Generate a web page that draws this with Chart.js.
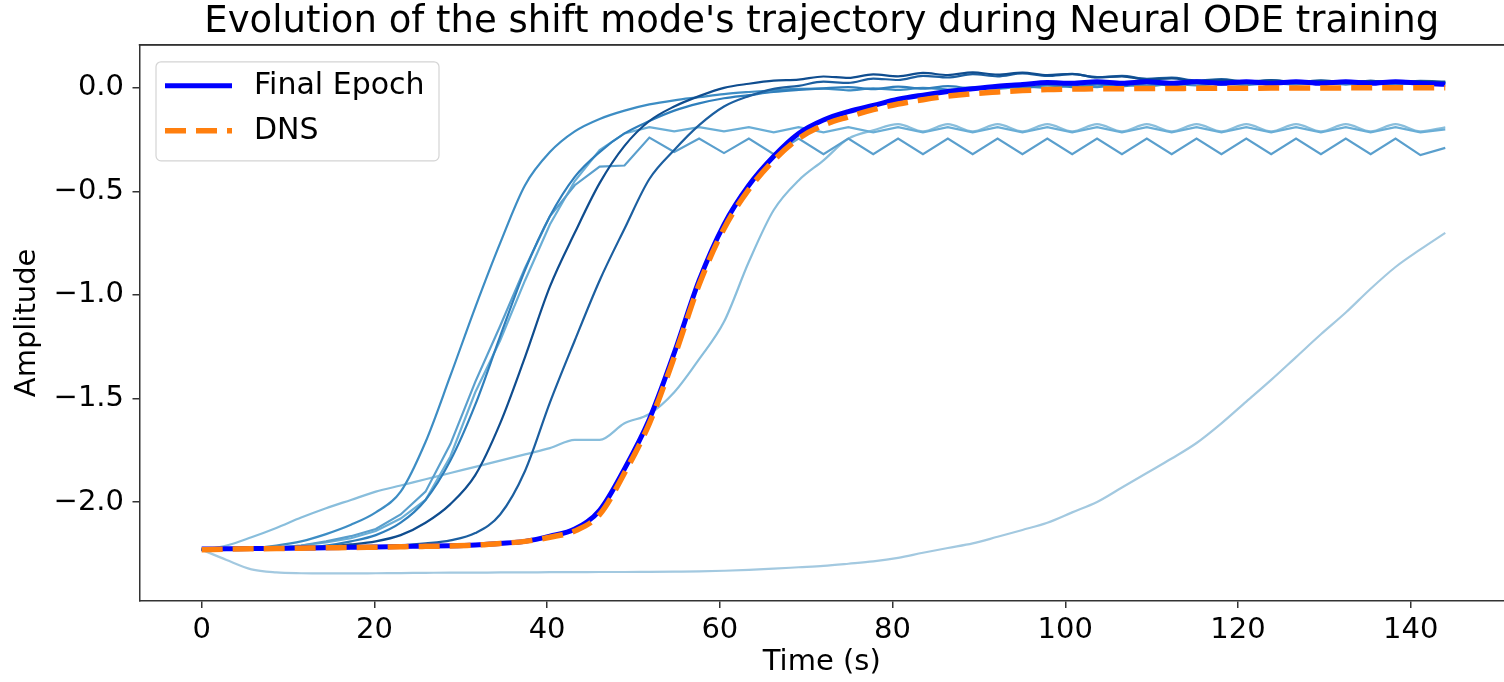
<!DOCTYPE html>
<html>
<head>
<meta charset="utf-8">
<title>Shift mode trajectory during Neural ODE training</title>
<script src="https://cdn.jsdelivr.net/npm/chart.js@4.4.0/dist/chart.umd.min.js"></script>
<style>
    html, body { margin: 0; padding: 0; background: #fff; }
    #wrap { width: 1504px; height: 682px; }
</style>
</head>
<body>
<div id="wrap"><canvas id="trajChart" width="1504" height="682"></canvas></div>
<script>
// 时间轴 (s)
const timeSteps = [0, 2.88, 5.76, 8.64, 11.52, 14.4, 17.28, 20.16, 23.04, 25.92,
    28.8, 31.68, 34.56, 37.44, 40.32, 43.2, 46.08, 48.96, 51.84, 54.72,
    57.6, 60.48, 63.36, 66.24, 69.12, 72, 74.88, 77.76, 80.64, 83.52,
    86.4, 89.28, 92.16, 95.04, 97.92, 100.8, 103.68, 106.56, 109.44, 112.32,
    115.2, 118.08, 120.96, 123.84, 126.72, 129.6, 132.48, 135.36, 138.24, 141.12,
    144];

// 训练过程中的各个 epoch (由浅到深)
const epochA = [-2.23, -2.28, -2.325, -2.34, -2.344, -2.345, -2.345, -2.344, -2.343, -2.342,
    -2.341, -2.341, -2.340, -2.340, -2.339, -2.339, -2.338, -2.338, -2.337, -2.336,
    -2.335, -2.332, -2.328, -2.322, -2.315, -2.308, -2.298, -2.287, -2.27, -2.245,
    -2.222, -2.20, -2.168, -2.135, -2.10, -2.05, -2.00, -1.93, -1.86, -1.79,
    -1.715, -1.62, -1.515, -1.41, -1.30, -1.19, -1.085, -0.97, -0.865, -0.78, -0.70];
const epochB = [-2.23, -2.21, -2.17, -2.125, -2.075, -2.03, -1.99, -1.95, -1.92, -1.89,
    -1.86, -1.83, -1.80, -1.77, -1.74, -1.70, -1.70, -1.62, -1.575, -1.47,
    -1.31, -1.13, -0.84, -0.59, -0.447, -0.35, -0.245, -0.205, -0.175, -0.21,
    -0.175, -0.21, -0.175, -0.21, -0.175, -0.21, -0.175, -0.21, -0.175, -0.21,
    -0.175, -0.21, -0.175, -0.21, -0.175, -0.21, -0.175, -0.21, -0.175, -0.21, -0.19];
const epochC = [-2.23, -2.228, -2.225, -2.22, -2.21, -2.195, -2.175, -2.14, -2.08, -1.99,
    -1.78, -1.47, -1.22, -0.93, -0.66, -0.45, -0.30, -0.22, -0.19, -0.21,
    -0.19, -0.21, -0.19, -0.215, -0.19, -0.215, -0.19, -0.215, -0.19, -0.215,
    -0.19, -0.215, -0.19, -0.215, -0.19, -0.215, -0.19, -0.215, -0.19, -0.215,
    -0.19, -0.215, -0.19, -0.215, -0.19, -0.215, -0.19, -0.215, -0.19, -0.215, -0.20];
const epochD = [-2.23, -2.228, -2.225, -2.22, -2.21, -2.19, -2.165, -2.13, -2.06, -1.95,
    -1.72, -1.42, -1.15, -0.87, -0.62, -0.47, -0.38, -0.375, -0.24, -0.31,
    -0.245, -0.315, -0.245, -0.32, -0.245, -0.32, -0.245, -0.32, -0.245, -0.32,
    -0.245, -0.32, -0.245, -0.32, -0.245, -0.32, -0.245, -0.32, -0.245, -0.32,
    -0.245, -0.32, -0.245, -0.32, -0.245, -0.32, -0.245, -0.32, -0.245, -0.325, -0.29];
const epochE = [-2.23, -2.227, -2.222, -2.21, -2.19, -2.155, -2.11, -2.05, -1.95, -1.71,
    -1.39, -1.06, -0.75, -0.47, -0.31, -0.21, -0.15, -0.11, -0.08, -0.06,
    -0.045, -0.03, -0.02, -0.012, -0.005, -0.004, -0.012, -0.002, -0.01, 0.0,
    -0.008, 0.002, -0.004, 0.006, 0.0, 0.01, 0.004, 0.014, 0.008, 0.018,
    0.012, 0.02, 0.014, 0.022, 0.016, 0.024, 0.016, 0.024, 0.016, 0.024, 0.02];
const epochF = [-2.23, -2.228, -2.225, -2.222, -2.218, -2.21, -2.19, -2.16, -2.10, -1.99,
    -1.80, -1.53, -1.20, -0.88, -0.62, -0.43, -0.31, -0.22, -0.16, -0.11,
    -0.075, -0.05, -0.035, -0.02, -0.01, -0.002, 0.004, -0.006, 0.006, -0.004,
    0.008, -0.002, 0.01, 0.0, 0.012, 0.004, 0.016, 0.008, 0.02, 0.012,
    0.024, 0.016, 0.026, 0.018, 0.028, 0.02, 0.028, 0.02, 0.028, 0.02, 0.025];
const epochG = [-2.23, -2.229, -2.228, -2.227, -2.225, -2.223, -2.22, -2.216, -2.21, -2.20,
    -2.185, -2.15, -2.06, -1.85, -1.52, -1.22, -0.93, -0.68, -0.44, -0.30,
    -0.18, -0.09, -0.04, -0.005, 0.01, 0.03, 0.024, 0.045, 0.038, 0.058,
    0.05, 0.066, 0.056, 0.07, 0.058, 0.066, 0.052, 0.058, 0.044, 0.05,
    0.036, 0.042, 0.03, 0.038, 0.028, 0.036, 0.026, 0.034, 0.026, 0.034, 0.03];
const epochH = [-2.23, -2.228, -2.226, -2.224, -2.22, -2.215, -2.205, -2.19, -2.16, -2.10,
    -2.01, -1.87, -1.62, -1.30, -0.96, -0.70, -0.46, -0.28, -0.16, -0.09,
    -0.04, 0.0, 0.02, 0.035, 0.04, 0.055, 0.048, 0.065, 0.056, 0.072,
    0.062, 0.075, 0.064, 0.074, 0.062, 0.068, 0.05, 0.056, 0.04, 0.046,
    0.032, 0.038, 0.028, 0.036, 0.026, 0.034, 0.024, 0.034, 0.024, 0.032, 0.026];

// 最终 epoch 与 DNS 参考
const finalEpoch = [-2.227, -2.226, -2.225, -2.224, -2.222, -2.221, -2.219, -2.217, -2.215, -2.213,
    -2.211, -2.207, -2.20, -2.19, -2.165, -2.13, -2.04, -1.84, -1.60, -1.28,
    -0.93, -0.66, -0.47, -0.33, -0.22, -0.155, -0.115, -0.085, -0.055, -0.035,
    -0.018, -0.004, 0.008, 0.016, 0.026, 0.022, 0.03, 0.022, 0.03, 0.022,
    0.03, 0.022, 0.03, 0.022, 0.03, 0.022, 0.03, 0.022, 0.03, 0.022, 0.018];
const dnsValues = [-2.23, -2.228, -2.226, -2.225, -2.223, -2.221, -2.22, -2.218, -2.216, -2.214,
    -2.212, -2.208, -2.20, -2.19, -2.17, -2.14, -2.06, -1.86, -1.62, -1.30,
    -0.95, -0.68, -0.49, -0.35, -0.245, -0.18, -0.14, -0.105, -0.078, -0.057,
    -0.04, -0.028, -0.02, -0.013, -0.008, -0.006, -0.004, -0.004, -0.003, -0.003,
    -0.002, -0.002, -0.002, -0.001, -0.001, -0.001, 0.0, 0.0, 0.0, 0.0, 0.0];

const legendOrder = ['Final Epoch', 'DNS'];
const xTickStep = 20;
const yTickStep = 0.5;

const FONT = 'DejaVu Sans';

function toPoints(values) {
    return values.map((v, i) => ({ x: timeSteps[i], y: v }));
}

function epochLine(values, color, order, sharp) {
    return {
        label: '',
        data: toPoints(values),
        borderColor: color,
        borderWidth: 2.2,
        pointRadius: 0,
        fill: false,
        order: order,
        tension: 0,
        cubicInterpolationMode: sharp ? 'default' : 'monotone'
    };
}

// 边框 + 图例框 (画在坐标区内部左上角)
const frameAndLegend = {
    id: 'frameAndLegend',
    afterDatasetsDraw(chart) {
        const ctx = chart.ctx;
        const area = chart.chartArea;

        // 顶部边框
        ctx.save();
        ctx.fillStyle = '#333';
        ctx.fillRect(area.left - 0.75, area.top - 0.75, chart.width - area.left + 1, 1.6);
        ctx.restore();

        const items = legendOrder.map(name => chart.data.datasets.find(d => d.label === name));
        const x0 = area.left + 16.5, y0 = area.top + 17, w = 283, h = 99, r = 5;

        ctx.save();
        ctx.beginPath();
        ctx.moveTo(x0 + r, y0);
        ctx.lineTo(x0 + w - r, y0);
        ctx.arcTo(x0 + w, y0, x0 + w, y0 + r, r);
        ctx.lineTo(x0 + w, y0 + h - r);
        ctx.arcTo(x0 + w, y0 + h, x0 + w - r, y0 + h, r);
        ctx.lineTo(x0 + r, y0 + h);
        ctx.arcTo(x0, y0 + h, x0, y0 + h - r, r);
        ctx.lineTo(x0, y0 + r);
        ctx.arcTo(x0, y0, x0 + r, y0, r);
        ctx.closePath();
        ctx.fillStyle = 'rgba(255,255,255,0.85)';
        ctx.fill();
        ctx.strokeStyle = '#d4d4d4';
        ctx.lineWidth = 1.2;
        ctx.stroke();

        items.forEach((d, i) => {
            const cy = y0 + 24 + i * 45;
            ctx.beginPath();
            ctx.setLineDash(d.borderDash || []);
            ctx.lineCap = 'butt';
            ctx.strokeStyle = d.borderColor;
            ctx.lineWidth = d.borderWidth;
            ctx.moveTo(x0 + 9, cy);
            ctx.lineTo(x0 + 76, cy);
            ctx.stroke();
            ctx.setLineDash([]);
            ctx.fillStyle = '#000';
            ctx.font = '30px "' + FONT + '"';
            ctx.textBaseline = 'middle';
            ctx.textAlign = 'left';
            ctx.fillText(d.label, x0 + 98, cy);
        });
        ctx.restore();
    }
};

function initChart() {
    const ctx = document.getElementById('trajChart');
    new Chart(ctx, {
        type: 'line',
        data: {
            datasets: [
                {
                    label: 'DNS',
                    data: toPoints(dnsValues),
                    borderColor: '#ff7f0e',
                    borderWidth: 5.5,
                    borderDash: [21, 10],
                    borderCapStyle: 'butt',
                    pointRadius: 0,
                    fill: false,
                    order: 0,
                    cubicInterpolationMode: 'monotone'
                },
                {
                    label: 'Final Epoch',
                    data: toPoints(finalEpoch),
                    borderColor: '#0000ff',
                    borderWidth: 5,
                    pointRadius: 0,
                    fill: false,
                    order: 1,
                    cubicInterpolationMode: 'monotone'
                },
                epochLine(epochH, '#0f4d8f', 2),
                epochLine(epochG, '#1c5fa0', 3),
                epochLine(epochF, '#2f7fbc', 4),
                epochLine(epochE, '#3d8dc4', 5),
                epochLine(epochD, '#5a9fcd', 6, true),
                epochLine(epochC, '#6aaed6', 7, true),
                epochLine(epochB, '#89bedc', 8),
                epochLine(epochA, '#a3c9e0', 9)
            ]
        },
        options: {
            responsive: false,
            devicePixelRatio: 1,
            animation: false,
            layout: { padding: { left: 0, right: 0, top: 0, bottom: 0 } },
            plugins: {
                legend: { display: false },
                tooltip: { enabled: false },
                title: {
                    display: true,
                    fullSize: false,
                    text: "Evolution of the shift mode's trajectory during Neural ODE training",
                    color: '#000',
                    font: { family: FONT, size: 37, weight: 'normal', lineHeight: 1.2 },
                    padding: { top: 0, bottom: 0.4 }
                }
            },
            scales: {
                x: {
                    type: 'linear',
                    min: -7.2,
                    max: 150.8,
                    afterFit(scale) { scale.height = 81; },
                    ticks: {
                        stepSize: xTickStep,
                        includeBounds: false,
                        color: '#000',
                        padding: 5,
                        maxRotation: 0,
                        font: { family: FONT, size: 29 },
                        callback: v => String(v)
                    },
                    grid: { display: true, drawOnChartArea: false, drawTicks: true, tickLength: 7, color: '#333', lineWidth: 1.5 },
                    border: { display: true, color: '#333', width: 1.5 },
                    title: {
                        display: true,
                        text: 'Time (s)',
                        color: '#000',
                        font: { family: FONT, size: 29 },
                        padding: { top: 0, bottom: 2 }
                    }
                },
                xTop: {
                    type: 'linear',
                    position: 'top',
                    min: -7.2,
                    max: 150.8,
                    afterFit(scale) { scale.height = 0; },
                    ticks: { display: false },
                    grid: { display: true, drawOnChartArea: false, drawTicks: false, color: '#333', lineWidth: 1.5 },
                    border: { display: true, color: '#333', width: 1.5 }
                },
                y: {
                    type: 'linear',
                    min: -2.478,
                    max: 0.208,
                    afterFit(scale) { scale.width = 139.5; },
                    ticks: {
                        stepSize: yTickStep,
                        includeBounds: false,
                        color: '#000',
                        padding: 8.5,
                        font: { family: FONT, size: 29 },
                        callback: v => v.toFixed(1).replace('-', '\u2212')
                    },
                    grid: { display: true, drawOnChartArea: false, drawTicks: true, tickLength: 7, color: '#333', lineWidth: 1.5 },
                    border: { display: true, color: '#333', width: 1.5 },
                    title: {
                        display: true,
                        text: 'Amplitude',
                        color: '#000',
                        font: { family: FONT, size: 29 },
                        padding: { top: 10, bottom: 0 }
                    }
                }
            }
        },
        plugins: [frameAndLegend]
    });
}

document.addEventListener('DOMContentLoaded', initChart);
</script>
</body>
</html>
